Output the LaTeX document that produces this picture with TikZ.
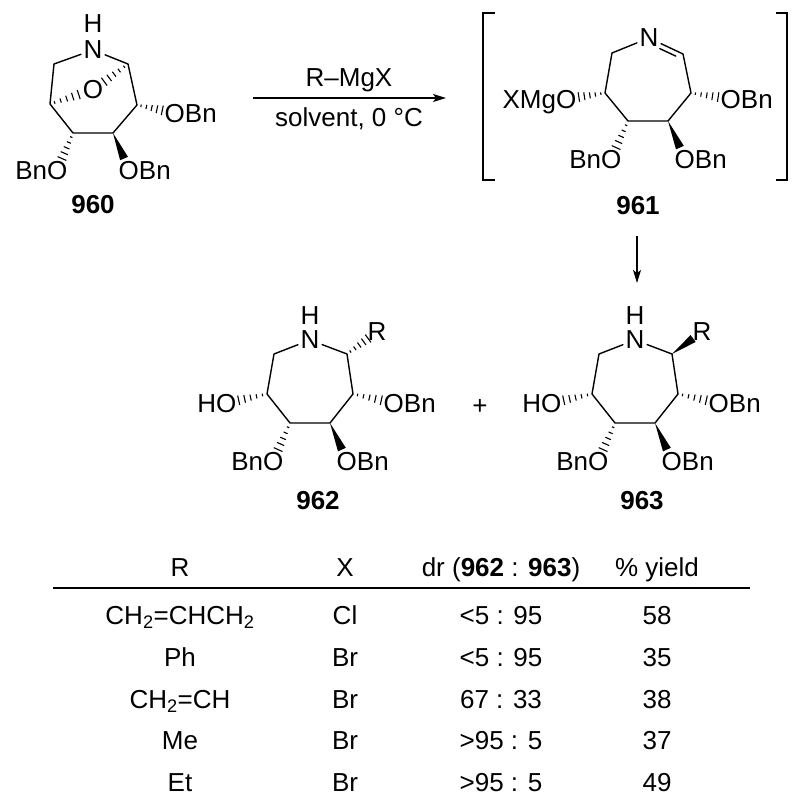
\documentclass[tikz,border=0pt]{standalone}
\usepackage{fontspec}
\setmainfont{Liberation Sans}
\usetikzlibrary{calc,arrows.meta}
\newcommand\fsz{\fontsize{26}{30}\selectfont}
\newcommand\hashbond[3]{%
  \path ($(#2)!#3!(#1)$) coordinate (hbE);
  \foreach \t in {0.16,0.37,0.58,0.79,1.0}{%
    \path ($(#1)!\t!(hbE)$) coordinate (hbP);
    \draw[line width=1.1pt] ($(hbP)!{0.6pt+\t*4.2pt}!90:(#1)$) -- ($(hbP)!{0.6pt+\t*4.2pt}!-90:(#1)$);
  }}
\newcommand\wedgebond[3]{%
  \path ($(#2)!#3!(#1)$) coordinate (wbE);
  \fill (#1) -- ($(wbE)!4.3pt!90:(#1)$) -- ($(wbE)!4.3pt!-90:(#1)$) -- cycle;}
\tikzset{
  bond/.style={line width=1.4pt, line join=round, line cap=round},
  atom/.style={inner sep=2.5pt, font=\fsz},
  lab/.style={inner sep=0pt, font=\fsz},
  cpd/.style={inner sep=0pt, font=\fsz\bfseries},
  rxn/.style={line width=1.4pt, -{Stealth[length=13pt,width=8pt,inset=3pt]}},
}
\begin{document}
\begin{tikzpicture}[x=1pt,y=-1pt]
\useasboundingbox (0,0) rectangle (800,805);
% ---------------- 960 ----------------
\begin{scope}[shift={(93,50)}]
  \node[atom] (aN) at (0,0) {N};
  \node[atom] (aH) at (0,-26) {H};
  \node[atom] (aOb) at (0,40) {O};
  \coordinate (a1) at (-39,14);
  \coordinate (a2) at (-43,54);
  \coordinate (a3) at (-20,83);
  \coordinate (a4) at (20,83);
  \coordinate (a5) at (44,55);
  \coordinate (a6) at (35,14);
  \coordinate (aO5) at (82,63);
  \coordinate (aO4) at (36,120);
  \coordinate (aO3) at (-36,120);
\end{scope}
\draw[bond] (aN) -- (a1) -- (a2) -- (a3) -- (a4) -- (a5) -- (a6) -- (aN);
\hashbond{a2}{aOb}{15pt}
\hashbond{a6}{aOb}{14pt}
\hashbond{a5}{aO5}{13pt}
\wedgebond{a4}{aO4}{12.5pt}
\hashbond{a3}{aO3}{12.5pt}
\node[lab, anchor=base west] (aT5) at ($(aO5)+(-10.5,9.3)$) {OBn};
\node[lab, anchor=base west] (aT4) at ($(aO4)+(-10.5,9.3)$) {OBn};
\node[lab, anchor=base east] (aT3) at ($(aO3)+(10.5,9.3)$) {BnO};
\node[cpd, anchor=base] (c960) at (93,213) {960};
% ---------------- arrow 1 ----------------
\coordinate (arA) at (253,98);
\coordinate (arB) at (446,98);
\draw[rxn] (arA) -- (arB);
\node[lab, anchor=base] (reag) at (349,87) {R–MgX};
\node[lab, anchor=base] (cond) at (349,127) {solvent, 0 °C};
% ---------------- 961 ----------------
\begin{scope}[shift={(649,38)}]
  \node[atom] (bN) at (0,0) {N};
  \coordinate (b1) at (-37,15);
  \coordinate (b2) at (-44,55);
  \coordinate (b3) at (-21,83);
  \coordinate (b4) at (19,83);
  \coordinate (b5) at (42,55);
  \coordinate (b6) at (34,16);
  \coordinate (bO2) at (-83,61);
  \coordinate (bO5) at (82,61);
  \coordinate (bO3) at (-38,121);
  \coordinate (bO4) at (36,121);
\end{scope}
\draw[bond] (bN) -- (b1) -- (b2) -- (b3) -- (b4) -- (b5) -- (b6) -- (bN);
\draw[bond] ($($(b6)!0.15!(bN)$)!5pt!90:(bN)$) -- ($($(b6)!0.62!(bN)$)!5pt!90:(bN)$);
\hashbond{b2}{bO2}{13pt}
\hashbond{b5}{bO5}{13pt}
\hashbond{b3}{bO3}{12.5pt}
\wedgebond{b4}{bO4}{12.5pt}
\node[lab, anchor=base east] (bT2) at ($(bO2)+(10.5,9.3)$) {XMgO};
\node[lab, anchor=base west] (bT5) at ($(bO5)+(-10.5,9.3)$) {OBn};
\node[lab, anchor=base east] (bT3) at ($(bO3)+(10.5,9.3)$) {BnO};
\node[lab, anchor=base west] (bT4) at ($(bO4)+(-10.5,9.3)$) {OBn};
\coordinate (brL1) at (495,13);
\coordinate (brL2) at (483,13);
\coordinate (brL3) at (483,180);
\coordinate (brL4) at (495,180);
\coordinate (brR1) at (776,13);
\coordinate (brR2) at (787,13);
\coordinate (brR3) at (787,180);
\coordinate (brR4) at (776,180);
\draw[line width=1.2pt] (brL1) -- (brL2) -- (brL3) -- (brL4);
\draw[line width=1.2pt] (brR1) -- (brR2) -- (brR3) -- (brR4);
\node[cpd, anchor=base] (c961) at (638,214) {961};
% ---------------- arrow 2 ----------------
\coordinate (arC) at (637,236);
\coordinate (arD) at (637,283);
\draw[rxn] (arC) -- (arD);
% ---------------- 962 ----------------
\begin{scope}[shift={(310,340)}]
  \node[atom] (cN) at (0,0) {N};
  \node[atom] (cH) at (0,-24) {H};
  \coordinate (c1) at (-36,14);
  \coordinate (c2) at (-43,54);
  \coordinate (c3) at (-20,83);
  \coordinate (c4) at (20,83);
  \coordinate (c5) at (43,54);
  \coordinate (c6) at (37,14);
  \coordinate (cR) at (67,-8);
  \coordinate (cO2) at (-84,63);
  \coordinate (cO5) at (84,63);
  \coordinate (cO3) at (-37,121);
  \coordinate (cO4) at (37,121);
\end{scope}
\draw[bond] (cN) -- (c1) -- (c2) -- (c3) -- (c4) -- (c5) -- (c6) -- (cN);
\hashbond{c6}{cR}{11pt}
\hashbond{c2}{cO2}{13pt}
\hashbond{c5}{cO5}{13pt}
\hashbond{c3}{cO3}{12.5pt}
\wedgebond{c4}{cO4}{12.5pt}
\node[lab] (cTR) at (cR) {R};
\node[lab, anchor=base east] (cT2) at ($(cO2)+(10.5,9.3)$) {HO};
\node[lab, anchor=base west] (cT5) at ($(cO5)+(-10.5,9.3)$) {OBn};
\node[lab, anchor=base east] (cT3) at ($(cO3)+(10.5,9.3)$) {BnO};
\node[lab, anchor=base west] (cT4) at ($(cO4)+(-10.5,9.3)$) {OBn};
\node[cpd, anchor=base] (c962) at (318,509) {962};
\node[lab] (plus) at (480,407) {+};
% ---------------- 963 ----------------
\begin{scope}[shift={(635,340)}]
  \node[atom] (dN) at (0,0) {N};
  \node[atom] (dH) at (0,-24) {H};
  \coordinate (d1) at (-36,14);
  \coordinate (d2) at (-43,54);
  \coordinate (d3) at (-20,83);
  \coordinate (d4) at (20,83);
  \coordinate (d5) at (43,54);
  \coordinate (d6) at (37,14);
  \coordinate (dR) at (67,-8);
  \coordinate (dO2) at (-84,63);
  \coordinate (dO5) at (84,63);
  \coordinate (dO3) at (-37,121);
  \coordinate (dO4) at (37,121);
\end{scope}
\draw[bond] (dN) -- (d1) -- (d2) -- (d3) -- (d4) -- (d5) -- (d6) -- (dN);
\wedgebond{d6}{dR}{11pt}
\hashbond{d2}{dO2}{13pt}
\hashbond{d5}{dO5}{13pt}
\hashbond{d3}{dO3}{12.5pt}
\wedgebond{d4}{dO4}{12.5pt}
\node[lab] (dTR) at (dR) {R};
\node[lab, anchor=base east] (dT2) at ($(dO2)+(10.5,9.3)$) {HO};
\node[lab, anchor=base west] (dT5) at ($(dO5)+(-10.5,9.3)$) {OBn};
\node[lab, anchor=base east] (dT3) at ($(dO3)+(10.5,9.3)$) {BnO};
\node[lab, anchor=base west] (dT4) at ($(dO4)+(-10.5,9.3)$) {OBn};
\node[cpd, anchor=base] (c963) at (642,509) {963};
% ---------------- table ----------------
\node[lab, anchor=base] (hR) at (180,576) {R};
\node[lab, anchor=base] (hX) at (345,576) {X};
\node[lab, anchor=base] (hD) at (501,576) {dr (\textbf{962} : \textbf{963})};
\node[lab, anchor=base] (hY) at (657,576) {\% yield};
\coordinate (ruleA) at (53,588);
\coordinate (ruleB) at (750,588);
\draw[line width=1.5pt] (ruleA) -- (ruleB);
\foreach \i/\rr/\xx/\dd/\yy in {0/{CH\textsubscript{2}=CHCH\textsubscript{2}}/Cl/{<5 : 95}/58,
  1/Ph/Br/{<5 : 95}/35, 2/{CH\textsubscript{2}=CH}/Br/{67 : 33}/38,
  3/Me/Br/{>95 : 5}/37, 4/Et/Br/{>95 : 5}/49}{
  \node[lab, anchor=base] (tR\i) at (180,{624.8+\i*41.6}) {\rr};
  \node[lab, anchor=base] (tX\i) at (345,{624.8+\i*41.6}) {\xx};
  \node[lab, anchor=base] (tD\i) at (501,{624.8+\i*41.6}) {\dd};
  \node[lab, anchor=base] (tY\i) at (657,{624.8+\i*41.6}) {\yy};
}
\end{tikzpicture}
\end{document}
